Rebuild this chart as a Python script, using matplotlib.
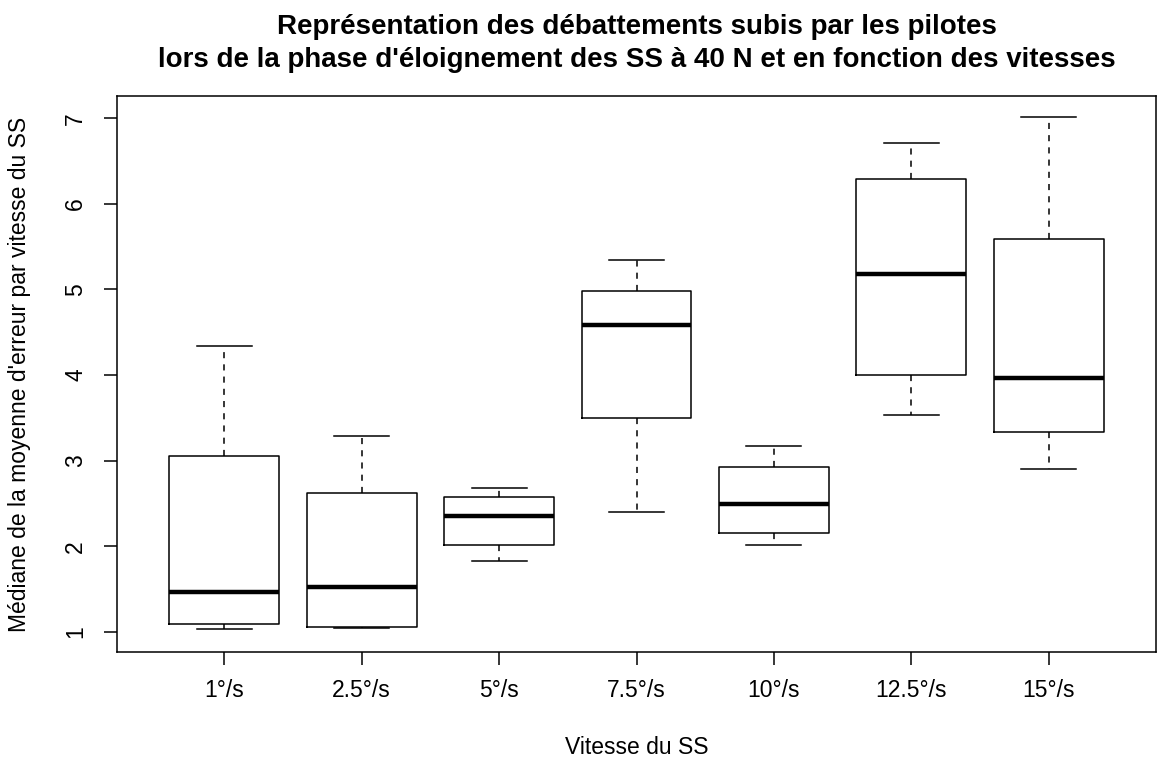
import matplotlib
matplotlib.use('Agg')
import matplotlib.pyplot as plt

plt.rcParams['font.family'] = ['Liberation Sans', 'DejaVu Sans']

# Résumé des boîtes (par vitesse du SS)
vitesses = ['1°/s', '2.5°/s', '5°/s', '7.5°/s', '10°/s', '12.5°/s', '15°/s']
moustache_basse = [1.03, 1.05, 1.83, 2.40, 2.02, 3.53, 2.90]
quartile_1 = [1.09, 1.06, 2.02, 3.50, 2.16, 4.00, 3.34]
mediane = [1.47, 1.52, 2.35, 4.58, 2.49, 5.18, 3.97]
quartile_3 = [3.05, 2.62, 2.58, 4.98, 2.93, 6.29, 5.59]
moustache_haute = [4.34, 3.29, 2.68, 5.35, 3.17, 6.71, 7.02]

stats = []
for i in range(len(vitesses)):
    stats.append(dict(label=vitesses[i], whislo=moustache_basse[i], q1=quartile_1[i],
                      med=mediane[i], q3=quartile_3[i], whishi=moustache_haute[i],
                      fliers=[]))

fig = plt.figure(figsize=(11.57, 7.62), dpi=100)
ax = fig.add_axes([117 / 1157, 1 - 652 / 762, (1156 - 117) / 1157, (652 - 96) / 762])

lw = 1.1
ax.bxp(stats, positions=range(1, len(vitesses) + 1), widths=0.8, capwidths=0.4,
       showfliers=False,
       boxprops=dict(color='black', linewidth=lw),
       medianprops=dict(color='black', linewidth=3.2, solid_capstyle='butt'),
       whiskerprops=dict(color='black', linewidth=lw, linestyle=(0, (4, 4))),
       capprops=dict(color='black', linewidth=lw))

ax.set_xlim(0.22, 7.78)
ax.set_ylim(0.766, 7.26)
ax.set_yticks([1, 2, 3, 4, 5, 6, 7])

for s in ax.spines.values():
    s.set_linewidth(lw)
    s.set_color('black')

fs = 16.5
ax.tick_params(axis='both', length=9.5, width=lw, labelsize=fs, colors='black')
ax.tick_params(axis='x', pad=10)
ax.tick_params(axis='y', pad=12, labelrotation=90)
for t in ax.get_yticklabels():
    t.set_verticalalignment('center')

# Titre et libellés des axes
xc = (117 + 1156) / 2 / 1157
fig.text(xc, 1 - 27 / 762, "Représentation des débattements subis par les pilotes",
         ha='center', va='center', fontsize=20, fontweight='bold')
fig.text(xc, 1 - 60 / 762, "lors de la phase d'éloignement des SS à 40 N et en fonction des vitesses",
         ha='center', va='center', fontsize=20, fontweight='bold')
fig.text(xc, 1 - 748 / 762, "Vitesse du SS", ha='center', va='center', fontsize=fs)
fig.text(20 / 1157, 1 - 374 / 762, "Médiane de la moyenne d'erreur par vitesse du SS",
         ha='center', va='center', rotation=90, fontsize=fs)

fig.savefig('out.png', dpi=100)
